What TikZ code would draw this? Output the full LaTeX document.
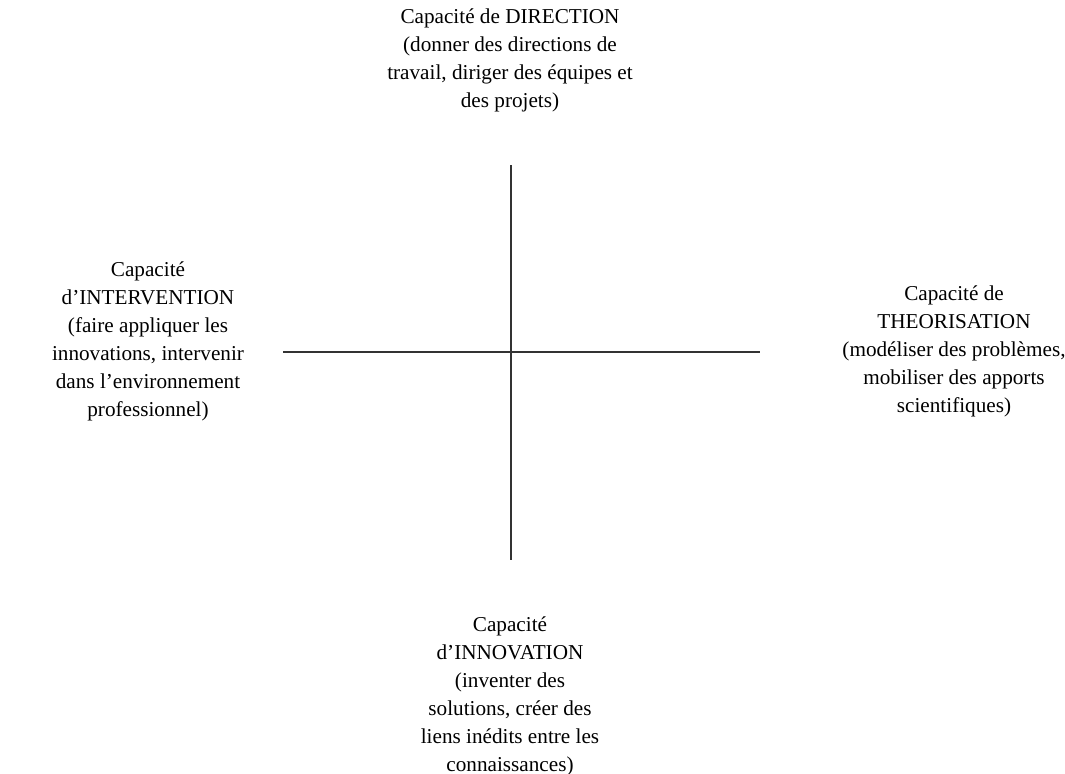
\documentclass[tikz,border=0pt]{standalone}
\usepackage{fontspec}
\setmainfont{Liberation Serif}
\usetikzlibrary{positioning}
\newcommand{\CapaciteFontSize}{\fontsize{10.6}{14}\selectfont}
\tikzset{
	capacite/.style={align=center, inner sep=0pt, font=\CapaciteFontSize},
	axe/.style={line width=0.7pt, black!80},
}
\begin{document}
\begin{tikzpicture}[x=0.5pt, y=-0.5pt]
		\useasboundingbox (0,0) rectangle (1065,773);
		\coordinate (haut) at (511,165);
		\coordinate (bas) at (511,560);
		\coordinate (gauche) at (283,352);
		\coordinate (droite) at (760,352);
		\node[capacite] (direction) at (510,60) {Capacité de DIRECTION\\(donner des directions de\\travail, diriger des équipes et\\des projets)};
		\node[capacite] (intervention) at (148,341) {Capacité\\d’INTERVENTION\\(faire appliquer les\\innovations, intervenir\\dans l’environnement\\professionnel)};
		\node[capacite] (theorisation) at (954,351) {Capacité de\\THEORISATION\\(modéliser des problèmes,\\mobiliser des apports\\scientifiques)};
		\node[capacite] (innovation) at (510,696) {Capacité\\d’INNOVATION\\(inventer des\\solutions, créer des\\liens inédits entre les\\connaissances)};
		\draw[axe] (haut) -- (bas);
		\draw[axe] (gauche) -- (droite);
	\end{tikzpicture}
\end{document}
